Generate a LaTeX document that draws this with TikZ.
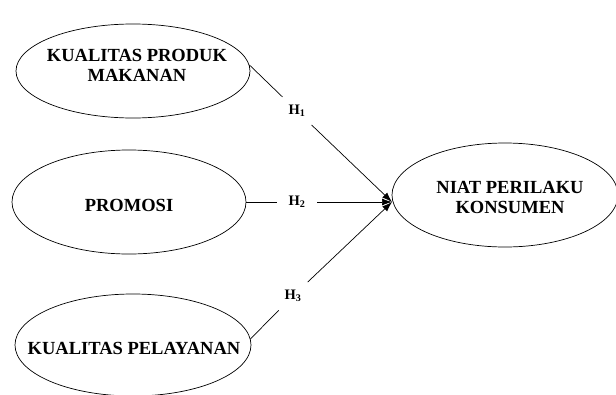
\documentclass[tikz,border=0pt]{standalone}
\usepackage{fontspec}
\setmainfont{Liberation Serif}
\usetikzlibrary{shapes.geometric,arrows.meta}
\begin{document}
\begin{tikzpicture}[x=1pt,y=-1pt,
  oval/.style={draw, ellipse, line width=0.7pt, inner sep=0pt},
  txt/.style={align=center, font=\fontsize{18.5}{20}\selectfont\bfseries, inner sep=0pt},
  hyp/.style={circle, minimum size=40pt, inner sep=0pt, font=\fontsize{14.5}{16}\selectfont\bfseries},
  conn/.style={line width=0.7pt},
  arr/.style={line width=0.7pt, -{Latex[length=10pt,width=7pt]}}]
\useasboundingbox (0,0) rectangle (616,394);
\node[oval, minimum width=234pt, minimum height=94pt] (e1) at (133,71) {};
\node[txt] (t1) at (137,65) {KUALITAS PRODUK\\MAKANAN};
\node[oval, minimum width=234pt, minimum height=104pt] (e2) at (129,202) {};
\node[txt] (t2) at (129,205) {PROMOSI};
\node[oval, minimum width=236pt, minimum height=102pt] (e3) at (133,345) {};
\node[txt] (t3) at (134,348) {KUALITAS PELAYANAN};
\node[oval, minimum width=226pt, minimum height=104pt] (e4) at (505,195) {};
\node[txt] (t4) at (510,197) {NIAT PERILAKU\\KONSUMEN};
\coordinate (tip) at (392,202);
\node[hyp] (h1) at (297,111) {H\textsubscript{1}};
\node[hyp] (h2) at (297,202) {H\textsubscript{2}};
\node[hyp] (h3) at (293,296) {H\textsubscript{3}};
\draw[conn] (e1.3) -- (h1);
\draw[arr] (h1) -- (tip);
\draw[conn] (e2.east) -- (h2);
\draw[arr] (h2) -- (tip);
\draw[conn] (e3.3) -- (h3);
\draw[arr] (h3) -- (tip);
\end{tikzpicture}
\end{document}
